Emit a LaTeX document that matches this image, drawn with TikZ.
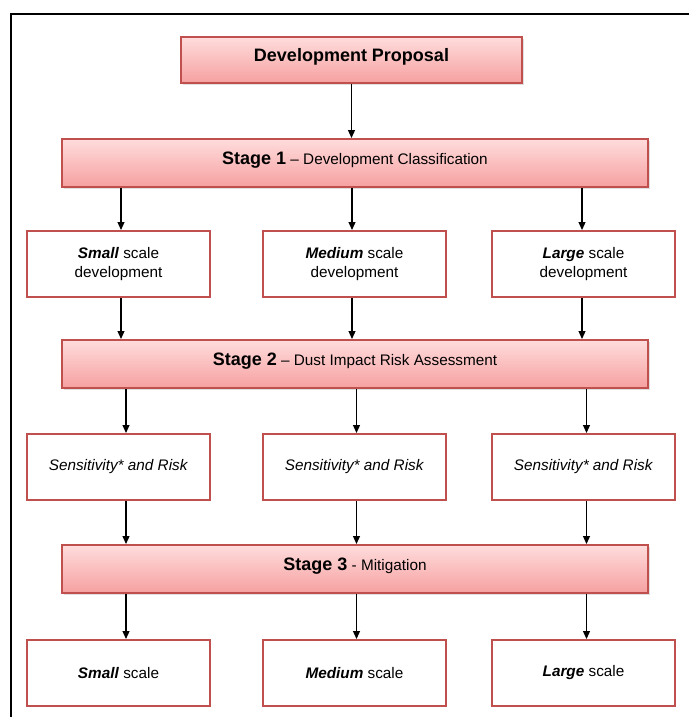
\documentclass[tikz,border=0pt]{standalone}
\usepackage{fontspec}
\setmainfont{Liberation Sans}
\usetikzlibrary{arrows.meta,shadows,calc}
\definecolor{boxred}{RGB}{192,80,77}
\definecolor{pinktop}{RGB}{255,220,220}
\definecolor{pinkbot}{RGB}{246,160,160}
\newcommand{\regf}{\fontsize{15.3}{18.5}\selectfont}
\newcommand{\bigb}{\fontsize{18}{21}\selectfont\bfseries}
\begin{document}
\begin{tikzpicture}[x=1pt,y=-1pt,
  stagebox/.style={draw=boxred, line width=2pt, top color=pinktop, bottom color=pinkbot,
    minimum width=586pt, minimum height=48pt, inner sep=0pt, text height=13pt, text depth=10pt,
    drop shadow={opacity=0.25, shadow xshift=1.5pt, shadow yshift=-2pt}, font=\regf},
  whitebox/.style={draw=boxred, line width=2pt, fill=white, minimum width=183pt,
    minimum height=66pt, inner sep=0pt, align=center, font=\regf},
  arr/.style={line width=1.2pt, -{Triangle[length=8pt,width=7pt]}},
  frame/.style={line width=2pt}]
\useasboundingbox (0,0) rectangle (689,717);
\fill[white] (0,0) rectangle (689,717);
\draw[frame] (689,14) -- (11,14) -- (11,717);

% top
\node[stagebox, minimum width=341pt, minimum height=46pt] (dp) at (351.5,60) {\bigb Development Proposal};

% stages
\node[stagebox] (s1) at (355,163) {{\bigb Stage 1} – Development Classification};
\node[stagebox] (s2) at (355,364) {{\bigb Stage 2} – Dust Impact Risk Assessment};
\node[stagebox] (s3) at (355,569) {{\bigb Stage 3} - Mitigation};

% row 1
\node[whitebox] (a1) at (118.5,264) {\textbf{\textit{Small}} scale\\development};
\node[whitebox] (a2) at (354.5,264) {\textbf{\textit{Medium}} scale\\development};
\node[whitebox] (a3) at (583.5,264) {\textbf{\textit{Large}} scale\\development};

% row 2
\node[whitebox] (b1) at (118.5,467) {\textit{Sensitivity* and Risk}};
\node[whitebox] (b2) at (354.5,467) {\textit{Sensitivity* and Risk}};
\node[whitebox] (b3) at (583.5,467) {\textit{Sensitivity* and Risk}};

% row 3
\node[whitebox] (c1) at (118.5,673) {\textbf{\textit{Small}} scale};
\node[whitebox] (c2) at (354.5,673) {\textbf{\textit{Medium}} scale};
\node[whitebox] (c3) at (583.5,673) {\textbf{\textit{Large}} scale};

% arrows
\draw[arr] (dp.south) -- (dp.south |- s1.north);

\draw[arr] ($(a1.north |- s1.south)+(2.5,0)$) -- ($(a1.north)+(2.5,0)$);
\draw[arr] ($(a2.north |- s1.south)+(-2.5,0)$) -- ($(a2.north)+(-2.5,0)$);
\draw[arr] ($(a3.north |- s1.south)+(-1.5,0)$) -- ($(a3.north)+(-1.5,0)$);

\draw[arr] ($(a1.south)+(2.5,0)$) -- ($(a1.south |- s2.north)+(2.5,0)$);
\draw[arr] ($(a2.south)+(-2.5,0)$) -- ($(a2.south |- s2.north)+(-2.5,0)$);
\draw[arr] ($(a3.south)+(-1.5,0)$) -- ($(a3.south |- s2.north)+(-1.5,0)$);

\draw[arr] ($(b1.north |- s2.south)+(7.5,0)$) -- ($(b1.north)+(7.5,0)$);
\draw[arr] ($(b2.north |- s2.south)+(2,0)$) -- ($(b2.north)+(2,0)$);
\draw[arr] ($(b3.north |- s2.south)+(3,0)$) -- ($(b3.north)+(3,0)$);

\draw[arr] ($(b1.south)+(7.5,0)$) -- ($(b1.south |- s3.north)+(7.5,0)$);
\draw[arr] ($(b2.south)+(2,0)$) -- ($(b2.south |- s3.north)+(2,0)$);
\draw[arr] ($(b3.south)+(3,0)$) -- ($(b3.south |- s3.north)+(3,0)$);

\draw[arr] ($(c1.north |- s3.south)+(7.5,0)$) -- ($(c1.north)+(7.5,0)$);
\draw[arr] ($(c2.north |- s3.south)+(2,0)$) -- ($(c2.north)+(2,0)$);
\draw[arr] ($(c3.north |- s3.south)+(3,0)$) -- ($(c3.north)+(3,0)$);
\end{tikzpicture}
\end{document}
